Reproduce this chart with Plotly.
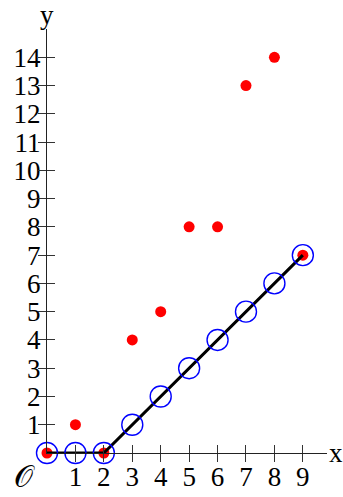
import plotly.graph_objects as go

# data
n = list(range(10))
a_vals = [0, 1, 0, 4, 5, 8, 8, 13, 14, 7]   # red dots
b_vals = [0, 0, 0, 1, 2, 3, 4, 5, 6, 7]     # blue rings
line_x = [0, 2, 9]
line_y = [0, 0, 7]
x_ticks = list(range(1, 10))
y_ticks = list(range(1, 15))

font = dict(family="Liberation Serif", size=27, color="black")

fig = go.Figure()
fig.add_trace(go.Scatter(x=n, y=a_vals, mode="markers", cliponaxis=False,
                         marker=dict(color="#ff0000", size=11)))
fig.add_trace(go.Scatter(x=line_x, y=line_y, mode="lines", cliponaxis=False,
                         line=dict(color="black", width=3)))
fig.add_trace(go.Scatter(x=n, y=b_vals, mode="markers", cliponaxis=False,
                         marker=dict(symbol="circle-open", color="#0000ff", size=21,
                                     line=dict(width=1.4, color="#0000ff"))))
# invisible trace so the overlay axes (outer half of the ticks) are drawn
fig.add_trace(go.Scatter(x=[0], y=[0], xaxis="x2", yaxis="y2", mode="markers",
                         marker=dict(opacity=0), hoverinfo="skip"))

axis_common = dict(showgrid=False, zeroline=False, tickfont=font, automargin=False,
                   tickcolor="#333", tickwidth=1, ticklen=8)

fig.update_layout(
    width=343, height=497,
    margin=dict(l=47, r=16, t=29, b=44),
    plot_bgcolor="white", paper_bgcolor="white",
    showlegend=False,
    xaxis=dict(range=[0, 9.85], tickvals=x_ticks, ticks="inside",
               showline=True, linecolor="#222", linewidth=1, **axis_common),
    yaxis=dict(range=[0, 15], tickvals=y_ticks, ticks="inside",
               showline=True, linecolor="#222", linewidth=1, **axis_common),
    xaxis2=dict(overlaying="x", matches="x", anchor="y2", side="bottom",
                tickvals=x_ticks, ticks="outside", showticklabels=False,
                showline=False, **axis_common),
    yaxis2=dict(overlaying="y", matches="y", anchor="x2", side="left",
                tickvals=y_ticks, ticks="outside", showticklabels=False,
                showline=False, **axis_common),
    annotations=[
        dict(x=-0.079, y=-0.055, xref="paper", yref="paper", text="𝒪", showarrow=False,
             font=dict(family="Liberation Serif", size=30, color="black"),
             xanchor="center", yanchor="middle"),
        dict(x=1.032, y=0, xref="paper", yref="paper", text="x", showarrow=False,
             font=font, xanchor="center", yanchor="middle"),
        dict(x=0, y=1.034, xref="paper", yref="paper", text="y", showarrow=False,
             font=font, xanchor="center", yanchor="middle"),
    ],
)

# drop the default page margin so the figure sits at the window's top-left
fig.write_html("out.html", config={"displayModeBar": False},
               post_script="document.body.style.margin='0';")
